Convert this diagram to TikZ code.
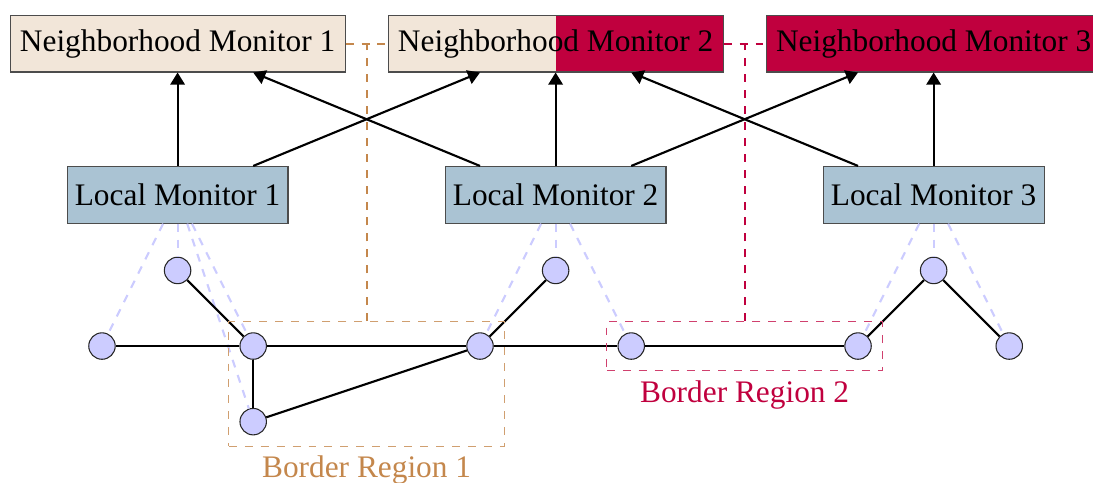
\documentclass[tikz,border=0pt]{standalone}
\usepackage{fontspec}
\setmainfont{Liberation Serif}
\usetikzlibrary{positioning,fit,arrows.meta}
\definecolor{monbeige}{HTML}{F2E6D9}
\definecolor{moncrimson}{RGB}{192,0,62}
\definecolor{locblue}{HTML}{AAC3D3}
\definecolor{vtxfill}{HTML}{CCCCFF}
\definecolor{regtan}{HTML}{C4874C}
\tikzset{
  nbmon/.style={draw=black!70, fill=monbeige, minimum width=4.43cm, minimum height=0.75cm, inner sep=0pt},
  locmon/.style={draw=black!70, fill=locblue, minimum width=2.92cm, minimum height=0.75cm, inner sep=0pt},
  vertex/.style={circle, draw=black!85, fill=vtxfill, minimum size=0.35cm, inner sep=0pt},
  link/.style={thick},
  report/.style={thick, -{Triangle[length=1.6mm,width=1.9mm]}},
  watch/.style={dashed, thick, vtxfill},
  region/.style={dashed, inner sep=4pt},
}

\begin{document}
\begin{tikzpicture}[font=\fontsize{11.8}{14}\selectfont]
            \useasboundingbox (-1.349,-1.799) rectangle (13.108,4.577);

            % Define the neighborhood monitors
            \node[nbmon] (nm1) at (1,4) {Neighborhood Monitor 1};
            \node[nbmon, path picture={\fill[moncrimson] (path picture bounding box.north) rectangle (path picture bounding box.south east);}] (nm2) at (6,4) {Neighborhood Monitor 2};
            \node[nbmon, fill=moncrimson] (nm3) at (11,4) {Neighborhood Monitor 3};

            % Define the local monitors
            \node[locmon] (lm1) at (1,2) {Local Monitor 1};
            \node[locmon] (lm2) at (6,2) {Local Monitor 2};
            \node[locmon] (lm3) at (11,2) {Local Monitor 3};

            % Define the network
            \node[vertex] (a) at (0,0) {};
            \node[vertex] (b) at (1,1) {};
            \node[vertex] (c) at (2,0) {};
            \node[vertex] (d) at (2,-1) {};
            \node[vertex] (e) at (5,0) {};
            \node[vertex] (f) at (6,1) {};
            \node[vertex] (g) at (7,0) {};
            \node[vertex] (h) at (10,0) {};
            \node[vertex] (i) at (11,1) {};
            \node[vertex] (j) at (12,0) {};

            % Add what each local monitor watches
            \foreach \v in {a,b,c,d} \draw[watch] (lm1) -- (\v);
            \foreach \v in {e,f,g} \draw[watch] (lm2) -- (\v);
            \foreach \v in {h,i,j} \draw[watch] (lm3) -- (\v);

            % Add the links
            \draw[link] (a) -- (c);
            \draw[link] (b) -- (c);
            \draw[link] (c) -- (d);
            \draw[link] (c) -- (e);
            \draw[link] (d) -- (e);
            \draw[link] (e) -- (f);
            \draw[link] (e) -- (g);
            \draw[link] (g) -- (h);
            \draw[link] (h) -- (i);
            \draw[link] (i) -- (j);

            % Add the reports to the neighborhood monitors
            \draw[report] (lm1) -- (nm1);
            \draw[report] ([xshift=1cm]lm1.north) -- ([xshift=-1cm]nm2.south);
            \draw[report] ([xshift=-1cm]lm2.north) -- ([xshift=1cm]nm1.south);
            \draw[report] (lm2) -- (nm2);
            \draw[report] ([xshift=1cm]lm2.north) -- ([xshift=-1cm]nm3.south);
            \draw[report] ([xshift=-1cm]lm3.north) -- ([xshift=1cm]nm2.south);
            \draw[report] (lm3) -- (nm3);

            % Add the border regions
            \node[region, draw=regtan!80, fit=(c)(d)(e)] (br1) {};
            \node[region, draw=moncrimson!75, fit=(g)(h)] (br2) {};
            \node[below=0pt of br1, text=regtan] (br1lbl) {Border Region 1};
            \node[below=0pt of br2, text=moncrimson] (br2lbl) {Border Region 2};
            \draw[dashed, regtan, thick] (nm1) -- (nm2);
            \draw[dashed, regtan, thick] (br1.north) -- (br1.north |- nm1.east);
            \draw[dashed, moncrimson, thick] (nm2) -- (nm3);
            \draw[dashed, moncrimson, thick] (br2.north) -- (br2.north |- nm2.east);
        \end{tikzpicture}
\end{document}
